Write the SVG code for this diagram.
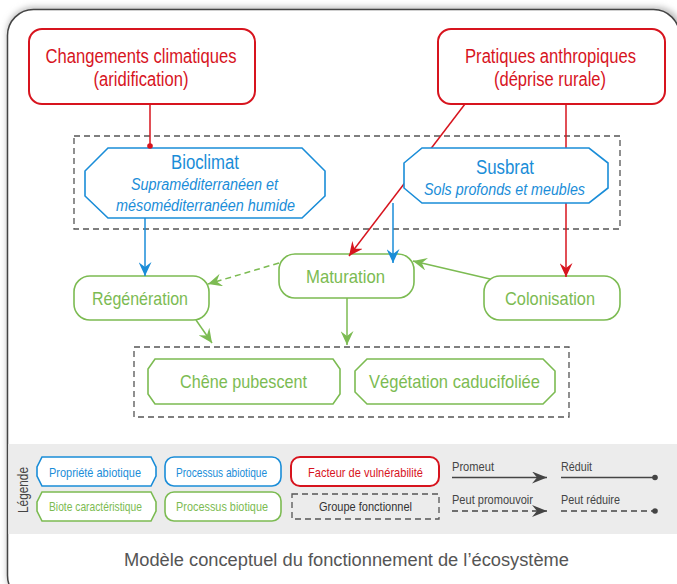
<svg xmlns="http://www.w3.org/2000/svg" width="677" height="584" viewBox="0 0 677 584">
<defs>
<style>
.c{font-family:"Liberation Sans",Arial,sans-serif}
.red{fill:#d7141e}.blue{fill:#1a8dd8}.green{fill:#7cbb52}.dk{fill:#444}
.rbox{fill:#fff;stroke:#d7141e;stroke-width:2}
.bbox{fill:#fff;stroke:#1a8dd8;stroke-width:1.6}
.gbox{fill:#fff;stroke:#7cbb52;stroke-width:1.6}
.grp{fill:none;stroke:#555;stroke-width:1.3;stroke-dasharray:6 4}
.lr{fill:none;stroke:#d7141e;stroke-width:1.5}
.lb{fill:none;stroke:#1a8dd8;stroke-width:1.5}
.lg{fill:none;stroke:#7cbb52;stroke-width:1.5}
.lk{fill:none;stroke:#444;stroke-width:1.5}
.dash{stroke-dasharray:6 4}
.mid{text-anchor:middle}
</style>
<marker id="ar" markerUnits="userSpaceOnUse" markerWidth="15" markerHeight="13" refX="14" refY="6.5" orient="auto"><path d="M0,0 L14,6.5 L0,13 L5,6.5 z" fill="#d7141e"/></marker>
<marker id="ab" markerUnits="userSpaceOnUse" markerWidth="15" markerHeight="13" refX="14" refY="6.5" orient="auto"><path d="M0,0 L14,6.5 L0,13 L5,6.5 z" fill="#1a8dd8"/></marker>
<marker id="ag" markerUnits="userSpaceOnUse" markerWidth="15" markerHeight="13" refX="14" refY="6.5" orient="auto"><path d="M0,0 L14,6.5 L0,13 L5,6.5 z" fill="#7cbb52"/></marker>
<marker id="ak" markerUnits="userSpaceOnUse" markerWidth="16" markerHeight="12" refX="15" refY="6" orient="auto"><path d="M0,0 L15,6 L0,12 L5,6 z" fill="#444"/></marker>
<marker id="dr" markerUnits="userSpaceOnUse" markerWidth="8" markerHeight="8" refX="4" refY="4"><circle cx="4" cy="4" r="2.8" fill="#d7141e"/></marker>
<marker id="dk" markerUnits="userSpaceOnUse" markerWidth="8" markerHeight="8" refX="4" refY="4"><circle cx="4" cy="4" r="2.8" fill="#444"/></marker>
<filter id="sh" x="-5%" y="-5%" width="110%" height="110%"><feGaussianBlur stdDeviation="3"/></filter>
</defs>
<rect width="677" height="584" fill="#fff"/>
<rect x="7" y="7" width="676" height="594" rx="26" fill="#bbb" filter="url(#sh)"/>
<rect id="frame" x="7.5" y="9.5" width="672" height="592" rx="26" fill="#fff" stroke="#444" stroke-width="1.5"/>

<g id="groups">
<rect id="grp-abiotic" class="grp" x="74" y="136" width="546" height="93"/>
<rect id="grp-biote" class="grp" x="134" y="347" width="435" height="70"/>
</g>

<g id="changements">
<rect class="rbox" x="29" y="29" width="226" height="75" rx="13"/>
<text class="c red mid" x="141" y="62.5" font-size="20" textLength="191" lengthAdjust="spacingAndGlyphs">Changements climatiques</text>
<text class="c red mid" x="141" y="86" font-size="20" textLength="95" lengthAdjust="spacingAndGlyphs">(aridification)</text>
</g>
<g id="pratiques">
<rect class="rbox" x="438" y="29" width="227" height="75" rx="13"/>
<text class="c red mid" x="550.5" y="62.5" font-size="20" textLength="171" lengthAdjust="spacingAndGlyphs">Pratiques anthropiques</text>
<text class="c red mid" x="550" y="86" font-size="20" textLength="112" lengthAdjust="spacingAndGlyphs">(déprise rurale)</text>
</g>
<g id="bioclimat">
<polygon class="bbox" points="108,148 302,148 325,171 325,196 302,218 108,218 85,196 85,171"/>
<text class="c blue mid" x="205" y="169" font-size="19.5" textLength="68" lengthAdjust="spacingAndGlyphs">Bioclimat</text>
<text class="c blue mid" x="204.5" y="189.5" font-size="16" font-style="italic" textLength="147" lengthAdjust="spacingAndGlyphs">Supraméditerranéen et</text>
<text class="c blue mid" x="205.5" y="210.5" font-size="16" font-style="italic" textLength="179" lengthAdjust="spacingAndGlyphs">mésoméditerranéen humide</text>
</g>
<g id="regeneration">
<rect class="gbox" x="74" y="276" width="135" height="44" rx="16"/>
<text class="c green mid" x="140" y="305" font-size="19" textLength="96" lengthAdjust="spacingAndGlyphs">Régénération</text>
</g>
<g id="maturation">
<rect class="gbox" x="279" y="254" width="135" height="44" rx="16"/>
<text class="c green mid" x="345.5" y="283" font-size="19" textLength="79" lengthAdjust="spacingAndGlyphs">Maturation</text>
</g>
<g id="colonisation">
<rect class="gbox" x="484" y="276" width="136" height="44" rx="16"/>
<text class="c green mid" x="550" y="305" font-size="19" textLength="90" lengthAdjust="spacingAndGlyphs">Colonisation</text>
</g>
<g id="chene">
<polygon class="gbox" points="155,359 333,359 340,369 340,394 333,404 155,404 148,394 148,369"/>
<text class="c green mid" x="243.5" y="388" font-size="19" textLength="127" lengthAdjust="spacingAndGlyphs">Chêne pubescent</text>
</g>
<g id="vegetation">
<polygon class="gbox" points="367,359 543,359 555,371 555,392 543,404 367,404 355,392 355,371"/>
<text class="c green mid" x="454.5" y="388" font-size="19" textLength="171" lengthAdjust="spacingAndGlyphs">Végétation caducifoliée</text>
</g>

<g id="connectors">
<line class="lr" x1="150" y1="104" x2="150" y2="146" marker-end="url(#dr)"/>
<line class="lr" x1="465" y1="104" x2="349" y2="256" marker-end="url(#ar)"/>
<line class="lr" x1="566" y1="104" x2="566" y2="277" marker-end="url(#ar)"/>
<line class="lb" x1="145" y1="218" x2="145" y2="276" marker-end="url(#ab)"/>
<line class="lb" x1="393" y1="203" x2="393" y2="263" marker-end="url(#ab)"/>
<line class="lg dash" x1="279" y1="263" x2="208" y2="284" marker-end="url(#ag)"/>
<line class="lg" x1="490" y1="279" x2="413" y2="261" marker-end="url(#ag)"/>
<line class="lg" x1="196" y1="320" x2="212" y2="343" marker-end="url(#ag)"/>
<line class="lg" x1="347" y1="298" x2="347" y2="345" marker-end="url(#ag)"/>
</g>

<g id="susbrat">
<polygon class="bbox" points="422,148 589,148 608,163 608,188 589,203 422,203 404,188 404,163"/>
<text class="c blue mid" x="505" y="173.5" font-size="19.5" textLength="58" lengthAdjust="spacingAndGlyphs">Susbrat</text>
<text class="c blue mid" x="504.5" y="194.5" font-size="16" font-style="italic" textLength="161" lengthAdjust="spacingAndGlyphs">Sols profonds et meubles</text>
</g>

<g id="legend">
<rect x="8.3" y="444" width="670" height="90" fill="#ececec"/>
<text class="c dk mid" transform="translate(28,490) rotate(-90)" font-size="14" textLength="46" lengthAdjust="spacingAndGlyphs">Légende</text>
<g id="leg-propriete">
<polygon class="bbox" points="42,457 151,457 156,467 156,476 151,486 42,486 37,476 37,467"/>
<text class="c blue mid" x="95" y="477" font-size="13.5" textLength="92" lengthAdjust="spacingAndGlyphs">Propriété abiotique</text>
</g>
<g id="leg-procabio">
<rect class="bbox" x="165" y="457" width="116" height="29" rx="9"/>
<text class="c blue mid" x="221.5" y="477" font-size="13.5" textLength="91" lengthAdjust="spacingAndGlyphs">Processus abiotique</text>
</g>
<g id="leg-facteur">
<rect class="rbox" x="291" y="457" width="148" height="29" rx="9"/>
<text class="c red mid" x="365.5" y="477" font-size="13.5" textLength="115" lengthAdjust="spacingAndGlyphs">Facteur de vulnérabilité</text>
</g>
<g id="leg-biote">
<polygon class="gbox" points="42,492 151,492 156,502 156,511 151,521 42,521 37,511 37,502"/>
<text class="c green mid" x="95.5" y="511" font-size="13.5" textLength="93" lengthAdjust="spacingAndGlyphs">Biote caractéristique</text>
</g>
<g id="leg-procbio">
<rect class="gbox" x="165" y="492" width="116" height="29" rx="9"/>
<text class="c green mid" x="222" y="511" font-size="13.5" textLength="92" lengthAdjust="spacingAndGlyphs">Processus biotique</text>
</g>
<g id="leg-groupe">
<rect class="grp" x="292" y="494" width="147" height="25"/>
<text class="c mid" x="365.5" y="511" font-size="13.5" fill="#333" textLength="93" lengthAdjust="spacingAndGlyphs">Groupe fonctionnel</text>
</g>
<g id="leg-arrows">
<text class="c dk" x="452" y="471" font-size="13.5" textLength="42" lengthAdjust="spacingAndGlyphs">Promeut</text>
<line class="lk" x1="452" y1="477.5" x2="547" y2="477.5" marker-end="url(#ak)"/>
<text class="c dk" x="561" y="471" font-size="13.5" textLength="31" lengthAdjust="spacingAndGlyphs">Réduit</text>
<line class="lk" x1="561" y1="477.5" x2="655" y2="477.5" marker-end="url(#dk)"/>
<text class="c dk" x="452" y="504" font-size="13.5" textLength="81" lengthAdjust="spacingAndGlyphs">Peut promouvoir</text>
<line class="lk dash" x1="452" y1="511" x2="547" y2="511" marker-end="url(#ak)"/>
<text class="c dk" x="561" y="504" font-size="13.5" textLength="59" lengthAdjust="spacingAndGlyphs">Peut réduire</text>
<line class="lk dash" x1="561" y1="511" x2="655" y2="511" marker-end="url(#dk)"/>
</g>
</g>

<text id="caption" x="346.5" y="566" font-family="'Liberation Sans',Arial,sans-serif" font-size="18" fill="#555" text-anchor="middle" textLength="445" lengthAdjust="spacingAndGlyphs">Modèle conceptuel du fonctionnement de l’écosystème</text>
</svg>
